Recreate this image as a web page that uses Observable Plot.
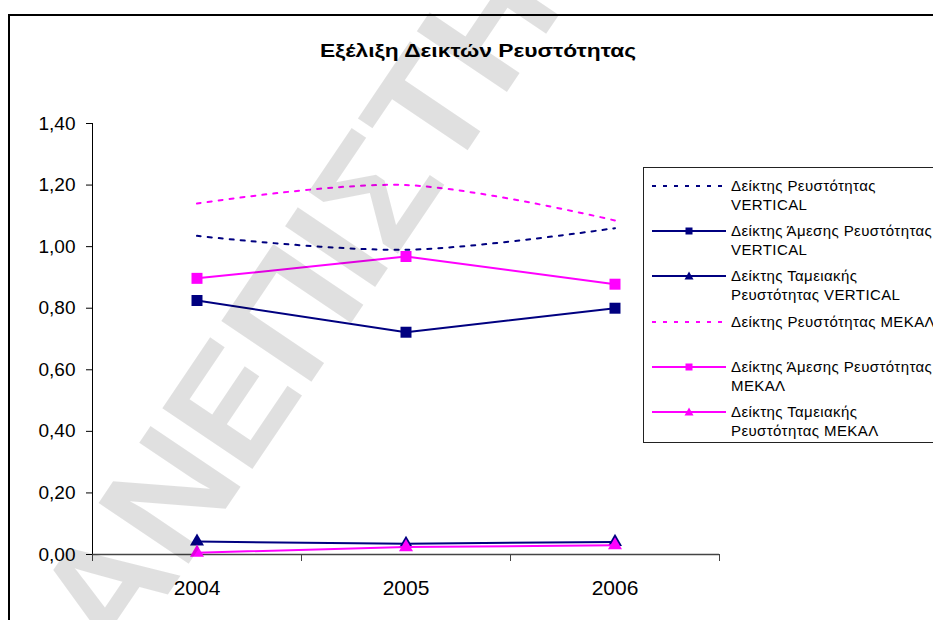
<!DOCTYPE html>
<html>
<head>
<meta charset="utf-8">
<script src="https://cdn.jsdelivr.net/npm/d3@7"></script>
<script src="https://cdn.jsdelivr.net/npm/@observablehq/plot@0.6"></script>
<style>
  html, body { margin: 0; padding: 0; background: #fff; }
  #page { position: relative; width: 933px; height: 620px; overflow: hidden; background: #fff;
          font-family: "Liberation Sans", Arial, sans-serif; }
  #frame { position: absolute; left: 8px; top: 14px; width: 960px; height: 640px; border: 2px solid #000; box-sizing: border-box; }
  #title { position: absolute; left: 278px; width: 400px; top: 41px; line-height: 19px; text-align: center; font-weight: bold; font-size: 19px; color: #000;
           transform: scaleX(1.2); transform-origin: 200px 0; white-space: nowrap; }
  #legend { position: absolute; left: 643px; top: 167px; width: 320px; height: 276px; border: 1px solid #222; background: #fff; box-sizing: border-box; }
  .lg-text { position: absolute; font-size: 15px; line-height: 19px; letter-spacing: 0.4px; white-space: nowrap; color: #000; }
  .lg-sw { position: absolute; }
  #chart svg { position: absolute; left: 0; top: 0; }
  #wm { position: absolute; left: 0; top: 0; pointer-events: none; }
</style>
</head>
<body>
<div id="page">
  <div id="frame"></div>
  <div id="chart"></div>
  <div id="title"></div>
  <div id="legend"></div>
  <svg id="wm" width="933" height="620"></svg>
</div>
<script>
// ---- data ----
const chartTitle = "Εξέλιξη Δεικτών Ρευστότητας";
const years = [2004, 2005, 2006];
const liquidityVertical = [1.035, 0.99, 1.06];
const quickVertical = [0.825, 0.722, 0.80];
const cashVertical = [0.042, 0.035, 0.041];
const liquidityMekal = [1.14, 1.20, 1.085];
const quickMekal = [0.897, 0.968, 0.878];
const cashMekal = [0.006, 0.024, 0.030];
const seriesNames = [
  "Δείκτης Ρευστότητας VERTICAL",
  "Δείκτης Άμεσης Ρευστότητας VERTICAL",
  "Δείκτης Ταμειακής Ρευστότητας VERTICAL",
  "Δείκτης Ρευστότητας ΜΕΚΑΛ",
  "Δείκτης Άμεσης Ρευστότητας ΜΕΚΑΛ",
  "Δείκτης Ταμειακής Ρευστότητας ΜΕΚΑΛ"
];
const legendLines = [
  ["Δείκτης Ρευστότητας", "VERTICAL"],
  ["Δείκτης Άμεσης Ρευστότητας", "VERTICAL"],
  ["Δείκτης Ταμειακής", "Ρευστότητας VERTICAL"],
  ["Δείκτης Ρευστότητας ΜΕΚΑΛ", ""],
  ["Δείκτης Άμεσης Ρευστότητας", "ΜΕΚΑΛ"],
  ["Δείκτης Ταμειακής", "Ρευστότητας ΜΕΚΑΛ"]
];
const yTicks = [0, 0.2, 0.4, 0.6, 0.8, 1.0, 1.2, 1.4];
const watermarkText = "ΑΝΕΠΙΣΤΗΜΙΟ";

// ---- styles ----
const NAVY = "#000080", MAG = "#FF00FF";
const seriesValues = [liquidityVertical, quickVertical, cashVertical, liquidityMekal, quickMekal, cashMekal];
const seriesStyle = [
  {color: NAVY, dash: "4,7", symbol: null},
  {color: NAVY, dash: null, symbol: "square"},
  {color: NAVY, dash: null, symbol: "triangle"},
  {color: MAG, dash: "4,7", symbol: null},
  {color: MAG, dash: null, symbol: "square"},
  {color: MAG, dash: null, symbol: "triangle"}
];

const rows = seriesValues.map((vals, s) => years.map((yr, i) => ({series: seriesNames[s], year: yr, value: vals[i]})));
const bounds = [years[0] - 0.5, ...years.map(y => y + 0.5)];

const marks = [
  Plot.ruleX([bounds[0]], {stroke: "#000", strokeWidth: 1}),
  Plot.axisY({ticks: yTicks, tickSize: 6, tickPadding: 11, fontSize: 19, fill: "#000", stroke: "#000", label: null,
              tickFormat: d => d.toFixed(2).replace(".", ",")}),
  Plot.ruleY([0], {stroke: "#444", strokeWidth: 1.5}),
  Plot.axisX({ticks: bounds, tickSize: 7, stroke: "#444", label: null, tickFormat: () => ""}),
  Plot.axisX({ticks: years, tickSize: 0, tickPadding: 26, fontSize: 21, fill: "#000", label: null, tickFormat: d => String(d)})
];
rows.forEach((data, s) => {
  const st = seriesStyle[s];
  marks.push(Plot.line(data, {x: "year", y: "value", stroke: st.color, strokeWidth: 2,
    strokeDasharray: st.dash || undefined, curve: st.dash ? "catmull-rom" : "linear"}));
  if (st.symbol) {
    marks.push(Plot.dot(data, {x: "year", y: "value", symbol: st.symbol, fill: st.color, stroke: "none",
      r: st.symbol === "square" ? 6.2 : 5.2}));
  }
});

const chart = Plot.plot({
  width: 933, height: 620,
  marginLeft: 92, marginRight: 214, marginTop: 123, marginBottom: 66,
  x: {type: "linear", domain: [bounds[0], bounds[bounds.length - 1]], axis: null, label: null},
  y: {domain: [0, 1.4], axis: null, label: null},
  style: {background: "transparent", fontFamily: "'Liberation Sans', Arial, sans-serif", overflow: "visible"},
  marks
});
document.getElementById("chart").appendChild(chart);

document.getElementById("title").textContent = chartTitle;

// ---- legend ----
const legend = document.getElementById("legend");
const slot = 45.2, firstY = 18; // relative to legend box
seriesStyle.forEach((st, i) => {
  const cy = firstY + i * slot;
  const sw = d3.create("svg").attr("class", "lg-sw").attr("width", 80).attr("height", 16)
    .style("left", "6px").style("top", (cy - 8) + "px");
  sw.append("line").attr("x1", 2).attr("x2", 76).attr("y1", 8).attr("y2", 8)
    .attr("stroke", st.color).attr("stroke-width", 2).attr("stroke-dasharray", st.dash || null);
  if (st.symbol === "square") {
    sw.append("rect").attr("x", 35.5).attr("y", 4.5).attr("width", 7).attr("height", 7).attr("fill", st.color);
  } else if (st.symbol === "triangle") {
    sw.append("path").attr("d", "M39,3.5L43.5,11.5L34.5,11.5Z").attr("fill", st.color);
  }
  legend.appendChild(sw.node());
  const t = document.createElement("div");
  t.className = "lg-text";
  t.style.left = "87px";
  t.style.top = (cy - 10) + "px";
  t.innerHTML = legendLines[i].map(l => l || "&nbsp;").join("<br>");
  legend.appendChild(t);
});

// ---- watermark ----
d3.select("#wm").append("text")
  .attr("transform", "translate(119,667) rotate(-56)")
  .attr("font-family", "'Liberation Sans', Arial, sans-serif")
  .attr("font-weight", "bold")
  .attr("font-size", 158)
  .attr("fill", "rgba(0,0,0,0.12)")
  .text(watermarkText);
</script>
</body>
</html>
